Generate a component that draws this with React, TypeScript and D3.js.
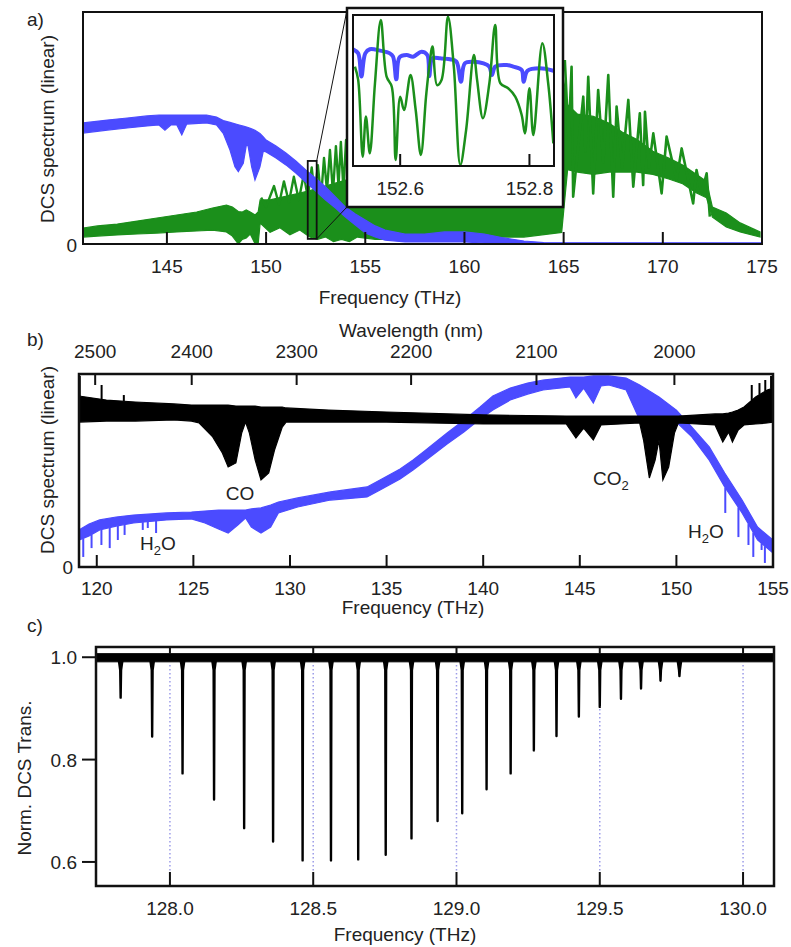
import React from 'react';
import * as d3 from 'd3';

const FONT = '"Liberation Sans", Arial, Helvetica, sans-serif';
const BLUE = '#4b4bff';
const GREEN = '#1b8f1b';
const C_LIGHT = 299792.458; // nm*THz

// ---------------- Panel a ----------------
const aTicks = [145, 150, 155, 160, 165, 170, 175];
// dense core of the green (idler) spectrum
const aGreenF = [140.77, 141.5, 142.5, 143.5, 144.5, 145.5, 146.5, 147.3, 148.0, 148.3, 148.6, 148.8, 149.0, 149.2, 149.45, 149.6, 149.7, 150.2, 150.7, 151.2, 151.7, 152.2, 152.6, 153.0, 153.4, 153.8, 154.2, 154.6, 155.5, 157, 159, 161, 163, 164.9, 165.2, 165.7, 166.5, 167.3, 168.0, 168.7, 169.5, 170.3, 171.0, 171.7, 172.2, 172.5, 173.2, 173.9, 174.9];
const aGreenHi = [0.069, 0.078, 0.086, 0.099, 0.112, 0.125, 0.138, 0.155, 0.168, 0.159, 0.14, 0.138, 0.147, 0.138, 0.125, 0.138, 0.19, 0.19, 0.2, 0.21, 0.22, 0.23, 0.24, 0.25, 0.26, 0.27, 0.28, 0.35, 0.52, 0.58, 0.62, 0.68, 0.72, 0.76, 0.6, 0.56, 0.55, 0.52, 0.48, 0.45, 0.4, 0.37, 0.34, 0.3, 0.27, 0.159, 0.134, 0.091, 0.052];
const aGreenLo = [0.03, 0.034, 0.039, 0.043, 0.047, 0.052, 0.056, 0.06, 0.052, 0.034, 0.0, 0.02, 0.026, 0.043, 0.0, 0.0, 0.09, 0.05, 0.07, 0.04, 0.06, 0.03, 0.02, 0.03, 0.01, 0.02, 0.01, 0.03, 0.02, 0.02, 0.02, 0.03, 0.03, 0.05, 0.32, 0.31, 0.3, 0.31, 0.31, 0.31, 0.3, 0.28, 0.26, 0.22, 0.2, 0.116, 0.073, 0.052, 0.03];
// fringe peaks and valleys
const aGreenZig1F = [149.75, 150.0, 150.4, 150.65, 150.9, 151.15, 151.4, 151.65, 151.9, 152.1, 152.3, 152.45, 152.61, 152.77, 152.92, 153.07, 153.22, 153.37, 153.52, 153.65, 153.77, 153.9, 154.03, 154.2, 154.35, 154.5];
const aGreenZig1V = [0.2, 0.16, 0.25, 0.17, 0.27, 0.18, 0.29, 0.19, 0.3, 0.2, 0.33, 0.21, 0.34, 0.2, 0.371, 0.23, 0.405, 0.22, 0.422, 0.25, 0.44, 0.23, 0.448, 0.26, 0.46, 0.28];
const aGreenZig2F = [165.06, 165.25, 165.4, 165.48, 165.99, 166.1, 166.24, 166.49, 166.74, 167.0, 167.25, 167.5, 167.67, 167.95, 168.26, 168.51, 168.84, 169.01, 169.1, 169.3, 169.52, 169.94, 170.19, 170.69, 170.95, 171.53, 171.7, 171.95, 172.21, 172.37];
const aGreenZig2V = [0.793, 0.45, 0.764, 0.204, 0.635, 0.4, 0.721, 0.218, 0.664, 0.35, 0.728, 0.204, 0.592, 0.33, 0.621, 0.247, 0.563, 0.254, 0.57, 0.33, 0.477, 0.218, 0.463, 0.276, 0.412, 0.175, 0.319, 0.22, 0.305, 0.118];

const aBlueF = [140.77, 142.0, 143.0, 144.0, 144.6, 144.9, 145.2, 145.5, 145.75, 146.0, 147.0, 147.5, 147.84, 148.18, 148.43, 148.6, 148.85, 149.02, 149.1, 149.27, 149.44, 149.69, 149.86, 150.0, 150.5, 151.0, 151.5, 152.0, 152.5, 153.0, 153.5, 154.0, 154.5, 155.0, 155.5, 156.0, 157.0, 158.0, 159.0, 160.0, 161.0, 162.0, 163.0, 164.0, 175.0];
const aBlueHi = [0.522, 0.534, 0.543, 0.552, 0.556, 0.556, 0.556, 0.556, 0.556, 0.556, 0.556, 0.547, 0.532, 0.524, 0.518, 0.514, 0.508, 0.504, 0.502, 0.496, 0.49, 0.476, 0.462, 0.448, 0.422, 0.392, 0.358, 0.319, 0.284, 0.246, 0.203, 0.159, 0.129, 0.103, 0.078, 0.06, 0.043, 0.043, 0.052, 0.052, 0.043, 0.026, 0.013, 0.006, 0.005];
const aBlueLo = [0.478, 0.491, 0.5, 0.509, 0.513, 0.491, 0.513, 0.513, 0.47, 0.517, 0.522, 0.513, 0.477, 0.405, 0.333, 0.312, 0.348, 0.434, 0.419, 0.333, 0.276, 0.333, 0.4, 0.397, 0.371, 0.341, 0.306, 0.267, 0.228, 0.19, 0.155, 0.116, 0.082, 0.047, 0.03, 0.017, 0.009, 0.009, 0.009, 0.009, 0.004, 0.004, 0.0, -0.002, -0.003];

const zoomBoxF = [152.1, 152.55];
const zoomBoxV = [0.022, 0.358];

// inset
const insetTicks = [152.6, 152.8];
const insetGreenF = [152.53, 152.535, 152.542, 152.547, 152.553, 152.561, 152.57, 152.579, 152.587, 152.593, 152.6, 152.606, 152.616, 152.624, 152.632, 152.64, 152.645, 152.65, 152.657, 152.664, 152.674, 152.683, 152.693, 152.702, 152.714, 152.719, 152.728, 152.738, 152.747, 152.755, 152.767, 152.778, 152.788, 152.793, 152.8, 152.806, 152.82, 152.829, 152.837];
const insetGreenV = [0.658, 0.57, 0.062, 0.327, 0.084, 0.548, 0.967, 0.592, 0.525, 0.04, 0.459, 0.371, 0.603, 0.371, 0.073, 0.459, 0.658, 0.791, 0.536, 0.57, 0.989, 0.658, 0.007, 0.238, 0.735, 0.57, 0.316, 0.548, 0.934, 0.548, 0.515, 0.459, 0.338, 0.216, 0.515, 0.205, 0.813, 0.548, 0.15];
const insetBlueF = [152.527, 152.535, 152.54, 152.546, 152.553, 152.569, 152.584, 152.589, 152.594, 152.599, 152.61, 152.62, 152.633, 152.642, 152.645, 152.65, 152.662, 152.677, 152.687, 152.694, 152.7, 152.713, 152.729, 152.738, 152.742, 152.747, 152.765, 152.775, 152.788, 152.791, 152.797, 152.816, 152.837];
const insetBlueV = [0.773, 0.746, 0.592, 0.746, 0.773, 0.764, 0.746, 0.724, 0.574, 0.72, 0.735, 0.724, 0.757, 0.735, 0.596, 0.713, 0.713, 0.707, 0.691, 0.558, 0.68, 0.691, 0.68, 0.658, 0.603, 0.658, 0.669, 0.658, 0.636, 0.558, 0.631, 0.647, 0.631];

// ---------------- Panel b ----------------
const bTicks = [120, 125, 130, 135, 140, 145, 150, 155];
const bWaveTicks = [2500, 2400, 2300, 2200, 2100, 2000];
const bBlueF = [119.08, 119.6, 120.15, 121.0, 121.9, 123.6, 124.9, 125.6, 126.3, 126.8, 127.3, 127.7, 128.0, 128.5, 129.0, 129.4, 130.4, 132.1, 133.99, 134.66, 135.7, 136.37, 137.0, 138.13, 139.0, 139.84, 140.5, 141.4, 142.3, 143.1, 144.5, 144.8, 145.2, 145.7, 146.1, 146.5, 147.4, 148.1, 149.1, 150.0, 150.8, 151.7, 152.5, 153.4, 154.2, 155.0];
const bBlueHi = [0.192, 0.223, 0.244, 0.259, 0.269, 0.28, 0.285, 0.29, 0.295, 0.295, 0.295, 0.295, 0.301, 0.306, 0.321, 0.337, 0.358, 0.389, 0.415, 0.451, 0.508, 0.554, 0.604, 0.694, 0.76, 0.829, 0.886, 0.927, 0.953, 0.969, 0.984, 0.984, 0.984, 0.99, 0.99, 0.99, 0.979, 0.943, 0.881, 0.813, 0.725, 0.622, 0.487, 0.347, 0.207, 0.14];
const bBlueLo = [0.14, 0.161, 0.192, 0.212, 0.228, 0.244, 0.249, 0.228, 0.197, 0.176, 0.218, 0.254, 0.207, 0.176, 0.207, 0.28, 0.311, 0.347, 0.363, 0.399, 0.456, 0.503, 0.55, 0.637, 0.7, 0.767, 0.813, 0.865, 0.896, 0.917, 0.933, 0.876, 0.927, 0.85, 0.938, 0.943, 0.917, 0.762, 0.751, 0.751, 0.674, 0.554, 0.415, 0.28, 0.14, 0.073];
const bBlueSpikeF = [119.3, 119.73, 120.24, 120.67, 121.09, 121.44, 122.38, 122.64, 123.07, 152.53, 153.21, 153.73, 153.98, 154.41, 154.58];
const bBlueSpikeV = [0.052, 0.098, 0.114, 0.098, 0.14, 0.166, 0.192, 0.202, 0.176, 0.28, 0.155, 0.114, 0.052, 0.088, 0.021];

const bBlackF = [119.08, 120.5, 122.0, 124.0, 124.9, 125.3, 126.0, 126.5, 126.8, 127.2, 127.5, 127.7, 127.9, 128.2, 128.5, 128.9, 129.2, 129.6, 129.8, 132.0, 135.0, 140.0, 144.3, 144.8, 145.2, 145.7, 146.1, 148.1, 148.3, 148.6, 148.9, 149.1, 149.3, 149.6, 149.9, 150.1, 152.0, 152.4, 152.7, 152.9, 153.2, 153.5, 154.1, 154.7, 155.0];
const bBlackHi = [0.886, 0.865, 0.855, 0.845, 0.839, 0.839, 0.839, 0.839, 0.839, 0.834, 0.834, 0.834, 0.834, 0.834, 0.829, 0.829, 0.829, 0.829, 0.824, 0.813, 0.803, 0.788, 0.782, 0.782, 0.782, 0.782, 0.782, 0.782, 0.782, 0.782, 0.782, 0.782, 0.782, 0.782, 0.782, 0.782, 0.793, 0.793, 0.798, 0.803, 0.813, 0.829, 0.881, 0.917, 0.927];
const bBlackLo = [0.751, 0.756, 0.756, 0.762, 0.756, 0.746, 0.674, 0.591, 0.518, 0.539, 0.694, 0.751, 0.694, 0.554, 0.451, 0.487, 0.606, 0.725, 0.751, 0.751, 0.751, 0.741, 0.741, 0.668, 0.72, 0.658, 0.736, 0.746, 0.658, 0.461, 0.554, 0.658, 0.451, 0.518, 0.694, 0.746, 0.736, 0.648, 0.699, 0.648, 0.71, 0.736, 0.741, 0.746, 0.751];
const bBlackSpikeF = [119.12, 120.25, 121.4, 153.9, 154.3, 154.6, 154.9];
const bBlackSpikeV = [0.99, 0.943, 0.891, 0.943, 0.953, 0.969, 0.99];

// ---------------- Panel c ----------------
const cTicks = [128.0, 128.5, 129.0, 129.5, 130.0];
const cYTicks = [0.6, 0.8, 1.0];
const cDipF = [127.828, 127.938, 128.044, 128.154, 128.259, 128.36, 128.463, 128.562, 128.657, 128.753, 128.843, 128.934, 129.02, 129.105, 129.189, 129.27, 129.349, 129.427, 129.5, 129.574, 129.644, 129.712, 129.778];
const cDipV = [0.921, 0.845, 0.773, 0.722, 0.666, 0.64, 0.603, 0.603, 0.605, 0.614, 0.646, 0.68, 0.695, 0.742, 0.773, 0.818, 0.846, 0.884, 0.903, 0.919, 0.939, 0.954, 0.963];
const cBaseF = [127.742, 130.108];
const cBaseHi = [1.007, 1.007];
const cBaseLo = [0.991, 0.991];

type Band = { f: number; hi: number; lo: number };
const band = (F: number[], H: number[], L: number[]): Band[] => F.map((f, i) => ({ f, hi: H[i], lo: L[i] }));
const pairs = (F: number[], V: number[]): [number, number][] => F.map((f, i) => [f, V[i]] as [number, number]);

const Txt = ({ x, y, children, anchor = 'middle', size = 19, rotate = false }: any) => (
  <text
    x={x}
    y={y}
    textAnchor={anchor}
    fontSize={size}
    fontFamily={FONT}
    fill="#222"
    transform={rotate ? `rotate(-90 ${x} ${y})` : undefined}
  >
    {children}
  </text>
);

export default function App() {
  const xA = d3.scaleLinear().domain([140.77, 175]).range([83, 762]);
  const yA = d3.scaleLinear().domain([0, 1]).range([244, 12]);
  const xI = d3.scaleLinear().domain([152.527, 152.838]).range([353, 554]);
  const yI = d3.scaleLinear().domain([0, 1]).range([166, 15]);
  const xB = d3.scaleLinear().domain([119.08, 155]).range([79, 773]);
  const yB = d3.scaleLinear().domain([0, 1]).range([567, 374]);
  const xC = d3.scaleLinear().domain([127.742, 130.108]).range([96, 774]);
  const yC = d3.scaleLinear().domain([0.553, 1.02]).range([886, 647]);

  const areaA = d3.area<Band>().x((d) => xA(d.f)).y0((d) => yA(d.lo)).y1((d) => yA(d.hi));
  const areaB = d3.area<Band>().x((d) => xB(d.f)).y0((d) => yB(d.lo)).y1((d) => yB(d.hi));
  const areaC = d3.area<Band>().x((d) => xC(d.f)).y0((d) => yC(d.lo)).y1((d) => yC(d.hi));

  const lineA = d3.line<[number, number]>().x((d) => xA(d[0])).y((d) => yA(d[1]));
  const lineI = d3.line<[number, number]>().x((d) => xI(d[0])).y((d) => yI(d[1])).curve(d3.curveCatmullRom.alpha(0.5));
  const lineC = d3.line<[number, number]>().x((d) => xC(d[0])).y((d) => yC(d[1]));

  const aGreen = band(aGreenF, aGreenHi, aGreenLo);
  const aBlue = band(aBlueF, aBlueHi, aBlueLo);
  const bBlue = band(bBlueF, bBlueHi, bBlueLo);
  const bBlack = band(bBlackF, bBlackHi, bBlackLo);
  const cBase = band(cBaseF, cBaseHi, cBaseLo);

  const bBlueLoAt = d3.scaleLinear().domain(bBlueF).range(bBlueLo);
  const bBlackHiAt = d3.scaleLinear().domain(bBlackF).range(bBlackHi);

  const fmt1 = d3.format('.1f');

  return (
    <svg width={791} height={947} style={{ position: 'absolute', left: 0, top: 0, background: '#fff' }}>
      <defs>
        <clipPath id="clipA"><rect x={83} y={12} width={679} height={232} /></clipPath>
        <clipPath id="clipI"><rect x={353} y={15} width={201} height={151} /></clipPath>
        <clipPath id="clipB"><rect x={79} y={374} width={694} height={193} /></clipPath>
      </defs>

      {/* ================= Panel a ================= */}
      <Txt x={27} y={26} anchor="start">a)</Txt>
      <g clipPath="url(#clipA)">
        <path d={areaA(aGreen) || ''} fill={GREEN} stroke={GREEN} strokeWidth={1.2} />
        <path d={lineA(pairs(aGreenZig1F, aGreenZig1V)) || ''} fill="none" stroke={GREEN} strokeWidth={2.4} strokeLinejoin="round" />
        <path d={lineA(pairs(aGreenZig2F, aGreenZig2V)) || ''} fill="none" stroke={GREEN} strokeWidth={2.6} strokeLinejoin="round" />
        <path d={areaA(aBlue) || ''} fill={BLUE} stroke={BLUE} strokeWidth={1.2} />
      </g>
      <rect x={83} y={12} width={679} height={232} fill="none" stroke="#111" strokeWidth={2} />
      {aTicks.map((t) => (
        <g key={t}>
          <line x1={xA(t)} x2={xA(t)} y1={244} y2={232} stroke="#111" strokeWidth={2} />
          <Txt x={xA(t)} y={273}>{t}</Txt>
        </g>
      ))}
      <Txt x={77} y={252} anchor="end">0</Txt>
      <Txt x={390} y={304}>Frequency (THz)</Txt>
      <Txt x={54} y={129} rotate>DCS spectrum (linear)</Txt>

      {/* zoom indicator */}
      <rect
        x={xA(zoomBoxF[0])}
        y={yA(zoomBoxV[1])}
        width={xA(zoomBoxF[1]) - xA(zoomBoxF[0])}
        height={yA(zoomBoxV[0]) - yA(zoomBoxV[1])}
        fill="none"
        stroke="#111"
        strokeWidth={1.8}
      />
      <line x1={xA(zoomBoxF[1])} y1={yA(zoomBoxV[1])} x2={347} y2={10} stroke="#111" strokeWidth={1} />
      <line x1={xA(zoomBoxF[1])} y1={yA(zoomBoxV[0])} x2={347} y2={207} stroke="#111" strokeWidth={1} />

      {/* inset */}
      <rect x={347} y={8} width={216} height={199} fill="#fff" stroke="#111" strokeWidth={2.5} />
      <g clipPath="url(#clipI)">
        <path d={lineI(pairs(insetBlueF, insetBlueV)) || ''} fill="none" stroke={BLUE} strokeWidth={4} />
        <path d={lineI(pairs(insetGreenF, insetGreenV)) || ''} fill="none" stroke={GREEN} strokeWidth={2.5} strokeLinejoin="round" />
      </g>
      <rect x={353} y={15} width={201} height={151} fill="none" stroke="#111" strokeWidth={2} />
      {insetTicks.map((t) => (
        <g key={t}>
          <line x1={xI(t)} x2={xI(t)} y1={166} y2={154} stroke="#111" strokeWidth={2} />
          <Txt x={xI(t)} y={195}>{fmt1(t)}</Txt>
        </g>
      ))}

      {/* ================= Panel b ================= */}
      <Txt x={27} y={346} anchor="start">b)</Txt>
      <Txt x={411} y={337}>Wavelength (nm)</Txt>
      <g clipPath="url(#clipB)">
        <path d={areaB(bBlue) || ''} fill={BLUE} stroke={BLUE} strokeWidth={1.2} />
        {bBlueSpikeF.map((f, i) => (
          <line key={i} x1={xB(f)} x2={xB(f)} y1={yB(bBlueLoAt(f))} y2={yB(bBlueSpikeV[i])} stroke={BLUE} strokeWidth={2} />
        ))}
        <path d={areaB(bBlack) || ''} fill="#000" stroke="#000" strokeWidth={1.2} />
        {bBlackSpikeF.map((f, i) => (
          <line key={i} x1={xB(f)} x2={xB(f)} y1={yB(bBlackHiAt(f))} y2={yB(bBlackSpikeV[i])} stroke="#000" strokeWidth={2} />
        ))}
      </g>
      <rect x={79} y={374} width={694} height={193} fill="none" stroke="#111" strokeWidth={2.5} />
      {bTicks.map((t) => (
        <g key={t}>
          <line x1={xB(t)} x2={xB(t)} y1={567} y2={555} stroke="#111" strokeWidth={2} />
          <Txt x={xB(t)} y={595}>{t}</Txt>
        </g>
      ))}
      {bWaveTicks.map((w) => (
        <g key={w}>
          <line x1={xB(C_LIGHT / w)} x2={xB(C_LIGHT / w)} y1={374} y2={385} stroke="#111" strokeWidth={2} />
          <Txt x={xB(C_LIGHT / w)} y={358}>{w}</Txt>
        </g>
      ))}
      <Txt x={73} y={574} anchor="end">0</Txt>
      <Txt x={413} y={614}>Frequency (THz)</Txt>
      <Txt x={54} y={460} rotate>DCS spectrum (linear)</Txt>
      <Txt x={240} y={500}>CO</Txt>
      <text x={140} y={550} fontSize={19} fontFamily={FONT} fill="#222">
        H<tspan fontSize={13} dy={5}>2</tspan><tspan dy={-5}>O</tspan>
      </text>
      <text x={593} y={485} fontSize={19} fontFamily={FONT} fill="#222">
        CO<tspan fontSize={13} dy={5}>2</tspan>
      </text>
      <text x={688} y={538} fontSize={19} fontFamily={FONT} fill="#222">
        H<tspan fontSize={13} dy={5}>2</tspan><tspan dy={-5}>O</tspan>
      </text>

      {/* ================= Panel c ================= */}
      <Txt x={27} y={632} anchor="start">c)</Txt>
      {cTicks.map((t) => (
        <line key={'g' + t} x1={xC(t)} x2={xC(t)} y1={yC(0.985)} y2={872} stroke="#9c9ce8" strokeWidth={1.5} strokeDasharray="1.5,2.5" />
      ))}
      <path d={areaC(cBase) || ''} fill="#000" stroke="#000" strokeWidth={1} />
      {cDipF.map((f, i) => (
        <path
          key={i}
          d={lineC([[f - 0.007, 0.997], [f - 0.0015, 0.975], [f, cDipV[i]], [f + 0.0015, 0.975], [f + 0.007, 0.997]]) || ''}
          fill="#000"
          stroke="#000"
          strokeWidth={2.4}
          strokeLinejoin="round"
        />
      ))}
      <rect x={96} y={647} width={678} height={239} fill="none" stroke="#111" strokeWidth={2.5} />
      {cTicks.map((t) => (
        <g key={t}>
          <line x1={xC(t)} x2={xC(t)} y1={886} y2={872} stroke="#111" strokeWidth={2} />
          <line x1={xC(t)} x2={xC(t)} y1={647} y2={654} stroke="#111" strokeWidth={2} />
          <Txt x={xC(t)} y={915}>{fmt1(t)}</Txt>
        </g>
      ))}
      {cYTicks.map((t) => (
        <g key={t}>
          <line x1={82} x2={96} y1={yC(t)} y2={yC(t)} stroke="#111" strokeWidth={2} />
          <Txt x={77} y={yC(t) + 7} anchor="end">{fmt1(t)}</Txt>
        </g>
      ))}
      <Txt x={405} y={941}>Frequency (THz)</Txt>
      <Txt x={31} y={778} rotate>Norm. DCS Trans.</Txt>
    </svg>
  );
}
